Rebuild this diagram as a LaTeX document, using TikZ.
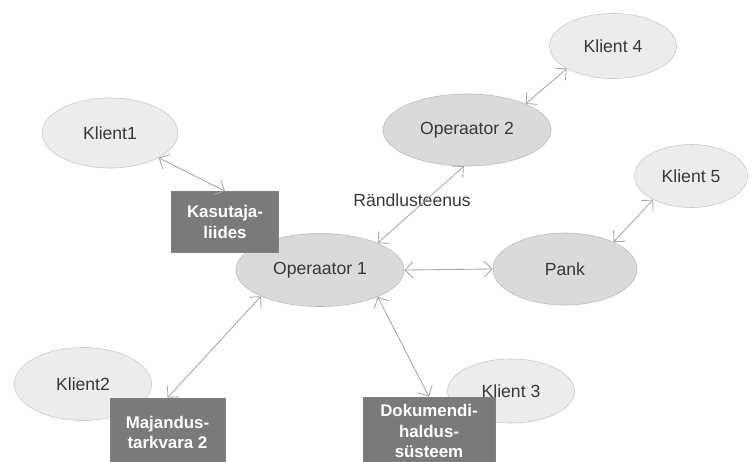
\documentclass[tikz,border=0pt]{standalone}
\usepackage{fontspec}
\setmainfont{Liberation Sans}
\usetikzlibrary{arrows.meta, shapes.geometric}
\definecolor{klient}{RGB}{236,236,236}
\definecolor{oper}{RGB}{218,218,218}
\definecolor{kast}{RGB}{122,122,122}
\definecolor{joon}{RGB}{165,165,165}

\begin{document}
\begin{tikzpicture}[
    x=0.025cm, y=-0.025cm,
    every node/.style={font=\fontsize{12.5}{15}\selectfont, text=black!78},
    klient/.style={ellipse, draw=black!22, fill=klient, inner sep=0pt},
    oper/.style={ellipse, draw=black!27, fill=oper, inner sep=0pt},
    kast/.style={rectangle, fill=kast, draw=black!50, text=white, align=center, inner sep=0pt,
      font=\fontsize{12}{14.5}\selectfont\bfseries},
    arr/.style={{Straight Barb[length=2mm]}-{Straight Barb[length=2mm]}, color=joon, line width=0.6pt}
  ]
  \clip (0,0) rectangle (753,461);
  % ellipsid
  \node[klient, minimum width=3.4cm, minimum height=1.75cm] (k1) at (110,133) {Klient1};
  \node[klient, minimum width=3.425cm, minimum height=1.825cm] (k2) at (83,384) {Klient2};
  \node[klient, minimum width=3.175cm, minimum height=1.6cm] (k3) at (511,391) {Klient 3};
  \node[klient, minimum width=3.175cm, minimum height=1.625cm] (k4) at (613,46) {Klient 4};
  \node[klient, minimum width=2.825cm, minimum height=1.575cm] (k5) at (691,176) {Klient 5};
  \node[oper, minimum width=4.2cm, minimum height=1.825cm] (op1) at (320,270) {Operaator 1};
  \node[oper, minimum width=4.2cm, minimum height=1.8cm] (op2) at (467,130) {Operaator 2};
  \node[oper, minimum width=3.6cm, minimum height=1.8cm] (pank) at (565,269) {Pank};
  % kastid
  \node[kast, minimum width=2.675cm, minimum height=1.525cm] (kas) at (225,222) {Kasutaja-\\liides};
  \node[kast, minimum width=2.875cm, minimum height=1.725cm] (maj) at (167.5,432.5) {Majandus-\\tarkvara 2};
  \node[kast, minimum width=3.3cm, minimum height=1.7cm, font=\fontsize{12}{14.6}\selectfont\bfseries]
    (dok) at (429,431) {Dokumendi-\\haldus-\\süsteem};
  \node (roam) at (412,200) {Rändlusteenus};
  % nooled
  \draw[arr] (k1.-27) -- (kas.north);
  \draw[arr] (op1.204) -- (maj.north);
  \draw[arr] (op1.-25) -- (dok.north);
  \draw[arr] (op1.25) -- (op2.-95);
  \draw[arr] (op1.east) -- (pank.west);
  \draw[arr] (op2.24) -- (k4.206);
  \draw[arr] (pank.29) -- (k5.212);
\end{tikzpicture}
\end{document}
